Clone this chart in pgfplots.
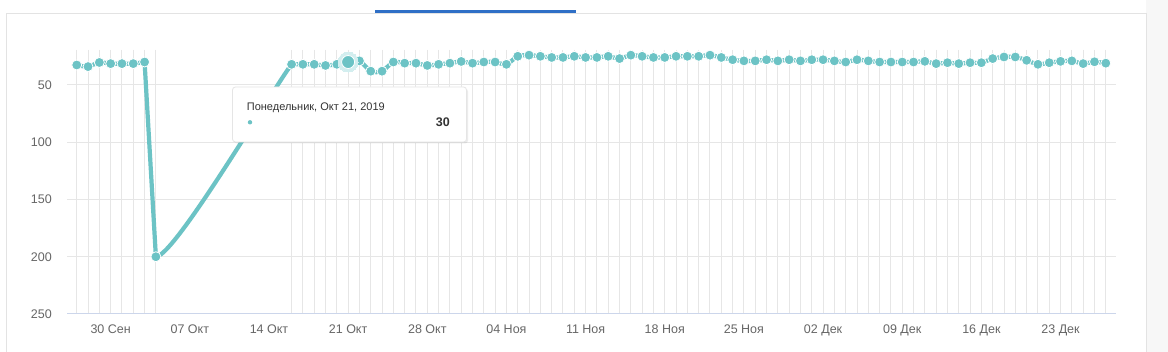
\documentclass[border=0pt]{standalone}
\usepackage{fontspec}
\setmainfont{Liberation Sans}
\usepackage{pgfplots}
\usepackage{pgfplotstable}
\pgfplotsset{compat=1.18}
\usetikzlibrary{shadows}
\definecolor{tealc}{HTML}{6CC3C5}
\definecolor{haloc}{HTML}{D3EEEF}
\definecolor{gridc}{HTML}{E6E6E6}
\definecolor{axisc}{HTML}{CCD6EB}
\definecolor{labc}{HTML}{666666}
\definecolor{tabblue}{HTML}{2F6FC6}
\definecolor{cardc}{HTML}{E3E3E3}
\definecolor{txtc}{HTML}{333333}
\newcommand\tickfont{\fontsize{12.5pt}{15pt}\selectfont}

% x = day index, 0 = 27 Sep 2019
\pgfplotstableread{
x y
0 32.6
1 34
2 30.4
3 31.4
4 31.4
5 31.4
6 30
7 200
19 32
20 32
21 32
22 33
23 32
24 30
25 29
26 38
27 38
28 30
29 31
30 31
31 33
32 32
33 31
34 29.5
35 31
36 30
37 30
38 32
39 25
40 24
41 25
42 26
43 26
44 25
45 26
46 26
47 25
48 27
49 24
50 25
51 26
52 26
53 25
54 25
55 25
56 24
57 26
58 28
59 29
60 29
61 28
62 29
63 28
64 29
65 28
66 28
67 29
68 30
69 28
70 29
71 30
72 30
73 30
74 30
75 29.4
76 31.4
77 30.6
78 31.4
79 30.6
80 30.6
81 27
82 25.6
83 25.6
84 28.5
85 32
86 30.6
87 29.4
88 29
89 31.4
90 29.8
91 31
}\data

\pgfplotsset{
  base/.style={
    scale only axis, anchor=south west,
    width=1049pt, height=264pt,
    xmin=-0.86, xmax=91.9, ymin=19.5, ymax=250, y dir=reverse,
  },
  tline/.style={draw=tealc, line width=4.2pt, line cap=round, line join=round, no markers},
}

\begin{document}
\begin{tikzpicture}[x=1pt,y=1pt]
\path[use as bounding box] (0,0) rectangle (1168,352);
\fill[white] (0,0) rectangle (1168,352);
\fill[black!3] (1146,0) rectangle (1168,352);
\draw[cardc, line width=1pt] (6,-2) -- (6,338) -- (1146,338) -- (1146,-2);
\fill[tabblue] (375,338.5) rectangle (576,341.5);

% grid and labels
\begin{axis}[base,
  at={(67pt,38pt)},
  axis line style={draw=none},
  major tick length=0pt, minor tick length=0pt, tick style={draw=none},
  xtick={3,10,17,24,31,38,45,52,59,66,73,80,87},
  xticklabels={30 Сен,07 Окт,14 Окт,21 Окт,28 Окт,04 Ноя,11 Ноя,18 Ноя,25 Ноя,02 Дек,09 Дек,16 Дек,23 Дек},
  ytick={50,100,150,200},
  ymajorgrids=true,
  major grid style={draw=gridc, line width=1pt},
  extra x ticks={0,1,2,3,4,5,6,7,19,20,21,22,23,24,25,26,27,28,29,30,31,32,33,34,35,36,37,38,39,40,41,42,43,44,45,46,47,48,49,50,51,52,53,54,55,56,57,58,59,60,61,62,63,64,65,66,67,68,69,70,71,72,73,74,75,76,77,78,79,80,81,82,83,84,85,86,87,88,89,90,91},
  extra x tick labels={},
  extra x tick style={xmajorgrids=true, major grid style={draw=gridc, line width=1pt}},
  extra y ticks={250},
  extra y tick style={ymajorgrids=true, major grid style={draw=axisc, line width=1pt}},
  ticklabel style={font=\tickfont, text=labc},
  xticklabel style={anchor=base, inner sep=0pt, yshift=-20pt},
  yticklabel style={anchor=east, inner sep=0pt, xshift=-15pt},
  /pgf/number format/assume math mode=true,
]
\end{axis}

% connector 04 Oct -> 16 Oct (clipped to that interval)
\begin{axis}[base,
  at={(155.887pt,38pt)}, width=135.705pt, xmin=7, xmax=19,
  hide axis]
\addplot[tline, smooth, tension=0.45, restrict x to domain=6:20] table {\data};
\end{axis}

% series
\begin{axis}[base, at={(67pt,38pt)}, hide axis, clip=false]
\addplot[tline, smooth, restrict x to domain=0:6] table {\data};
\addplot[tline, sharp plot, restrict x to domain=6:7] table {\data};
\addplot[tline, smooth, restrict x to domain=19:91] table {\data};
\addplot[only marks, mark=*, mark size=5pt, mark options={fill=tealc, draw=white, line width=0.8pt}] table {\data};
\addplot[only marks, mark=*, mark size=10pt, color=haloc, mark options={fill=haloc, draw=haloc, line width=0pt}, restrict x to domain=24:24] table {\data};
\addplot[only marks, mark=*, mark size=6.5pt, color=tealc, mark options={fill=tealc, draw=white, line width=0.8pt}, restrict x to domain=24:24] table {\data};
\end{axis}

% tooltip
\fill[white, rounded corners=3pt, drop shadow={shadow xshift=1.5pt, shadow yshift=-1.5pt, opacity=0.15}] (232.5,210) rectangle (466.5,265);
\draw[black!10, rounded corners=3pt, line width=0.8pt] (232.5,210) rectangle (466.5,265);
\node[anchor=base west, inner sep=0pt, text=txtc, font=\fontsize{11pt}{13pt}\selectfont] at (246.7,241.3) {Понедельник, Окт 21, 2019};
\fill[tealc] (250,229.7) circle (2.2pt);
\node[anchor=base east, inner sep=0pt, text=txtc, font=\fontsize{12.5pt}{15pt}\selectfont\bfseries] at (450,225.2) {30};
\end{tikzpicture}
\end{document}
